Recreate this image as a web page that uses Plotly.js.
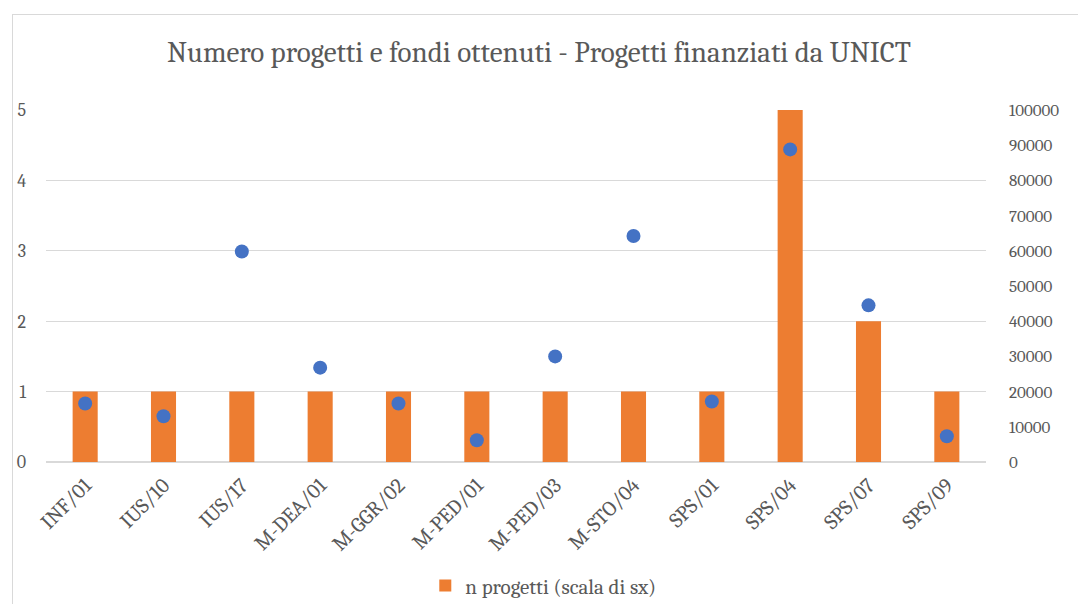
<!DOCTYPE html>
<html>
<head>
<meta charset="utf-8">
<script src="https://cdn.plot.ly/plotly-3.0.1.min.js"></script>
<style>
html,body{margin:0;padding:0;background:#fff;overflow:hidden;}
#chart{width:1078px;height:604px;position:absolute;left:0;top:0;}
#frame{position:absolute;left:12px;top:14px;width:1200px;height:700px;border:1px solid #d9d9d9;pointer-events:none;}
</style>
</head>
<body>
<div id="chart"></div>
<div id="frame"></div>
<script>
const categories = ["INF/01","IUS/10","IUS/17","M-DEA/01","M-GGR/02","M-PED/01","M-PED/03","M-STO/04","SPS/01","SPS/04","SPS/07","SPS/09"];
const nProgetti = [1,1,1,1,1,1,1,1,1,5,2,1];
const fondi = [16600,13000,59800,26800,16600,6200,30000,64200,17200,88800,44500,7300];
const leftTicks = [0,1,2,3,4,5];
const rightTicks = [0,10000,20000,30000,40000,50000,60000,70000,80000,90000,100000];

const font = "Cambria, 'Liberation Serif', 'DejaVu Serif', serif";
const grey = "#595959";

const traces = [
  {
    type: "bar",
    x: categories,
    y: nProgetti,
    name: "n progetti (scala di sx)",
    marker: {color: "#ED7D31"},
    yaxis: "y",
    hoverinfo: "x+y"
  },
  {
    type: "scatter",
    mode: "markers",
    x: categories,
    y: fondi,
    name: "fondi (scala di dx)",
    marker: {color: "#4472C4", size: 14},
    yaxis: "y2",
    showlegend: false
  }
];

const layout = {
  width: 1078,
  height: 604,
  paper_bgcolor: "#fff",
  plot_bgcolor: "#fff",
  margin: {l: 46, r: 92, t: 110, b: 142, autoexpand: false},
  bargap: 0.68,
  title: {
    text: "Numero progetti e fondi ottenuti - Progetti finanziati da UNICT",
    font: {family: font, size: 29, color: grey},
    x: 0.5, xanchor: "center",
    y: 0.914, yanchor: "middle"
  },
  font: {family: font, color: grey, size: 17},
  xaxis: {
    type: "category",
    automargin: false,
    range: [-0.5, categories.length - 0.5],
    tickangle: -45,
    ticklabelstandoff: 6,
    tickfont: {family: font, size: 21, color: grey},
    showgrid: false,
    showline: false,
    ticks: "",
    zeroline: false
  },
  yaxis: {
    automargin: false,
    range: [0, 5],
    tickvals: leftTicks,
    ticktext: leftTicks.map(String),
    showgrid: true,
    gridcolor: "#d9d9d9",
    gridwidth: 1.3,
    zeroline: true,
    zerolinecolor: "#d9d9d9",
    zerolinewidth: 1.3,
    showline: false,
    ticks: "",
    ticklabelstandoff: 19,
    tickfont: {family: font, size: 18, color: grey}
  },
  yaxis2: {
    automargin: false,
    overlaying: "y",
    side: "right",
    range: [0, 100000],
    tickvals: rightTicks,
    ticktext: rightTicks.map(String),
    showgrid: false,
    zeroline: false,
    showline: false,
    ticks: "",
    ticklabelstandoff: 22,
    tickfont: {family: font, size: 17, color: grey}
  },
  legend: {
    orientation: "h",
    x: 0.4035, xanchor: "left",
    y: -0.352, yanchor: "middle",
    font: {family: font, size: 21, color: grey},
    itemwidth: 30
  },
  showlegend: true
};

Plotly.newPlot("chart", traces, layout, {displayModeBar: false, staticPlot: true});
</script>
</body>
</html>
